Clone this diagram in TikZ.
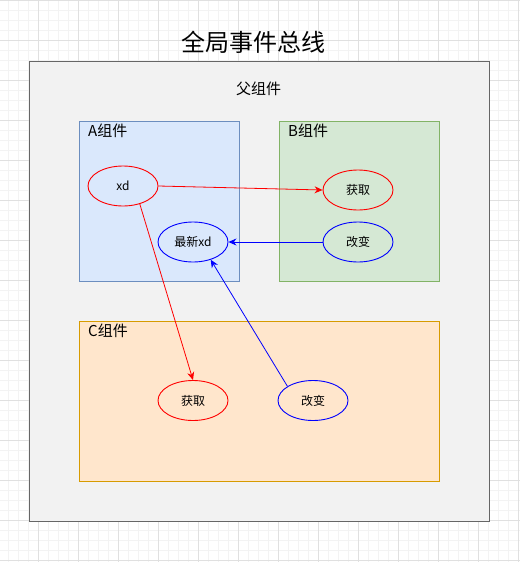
\documentclass[tikz,border=0pt]{standalone}
\usepackage{fontspec}
\setmainfont{Noto Sans CJK SC}
\usetikzlibrary{shapes.geometric,arrows.meta}
\definecolor{gridminor}{HTML}{F3F3F3}
\definecolor{gridmajor}{HTML}{E0E0E0}
\definecolor{parentfill}{HTML}{F2F2F2}
\definecolor{parentdraw}{HTML}{666666}
\definecolor{afill}{HTML}{DAE8FC}
\definecolor{adraw}{HTML}{6C8EBF}
\definecolor{bfill}{HTML}{D5E8D4}
\definecolor{bdraw}{HTML}{82B366}
\definecolor{cfill}{HTML}{FFE6CC}
\definecolor{cdraw}{HTML}{D79B00}
\definecolor{redc}{HTML}{FF0000}
\definecolor{bluec}{HTML}{0000FF}
\tikzset{
  compbox/.style={draw, line width=0.8pt, inner sep=0pt, anchor=north west},
  ell/.style={ellipse, draw, line width=0.9pt, minimum width=70pt, minimum height=40pt, inner sep=0pt, font=\fontsize{12}{14}\selectfont},
  redell/.style={ell, draw=redc},
  blueell/.style={ell, draw=bluec},
  complabel/.style={anchor=west, inner sep=0pt, font=\fontsize{15}{18}\selectfont},
  redarrow/.style={draw=redc, line width=0.8pt, -{Stealth[length=8pt,width=7pt]}},
  bluearrow/.style={draw=bluec, line width=0.8pt, -{Stealth[length=8pt,width=7pt]}},
}
\begin{document}
\begin{tikzpicture}[x=1pt,y=-1pt]
\useasboundingbox (0,0) rectangle (520,562);
\fill[white] (0,0) rectangle (520,562);
% grid
\foreach \x in {8.5,18.5,...,518.5} \draw[gridminor, line width=0.6pt] (\x,0) -- (\x,562);
\foreach \y in {0.5,10.5,...,560.5} \draw[gridminor, line width=0.6pt] (0,\y) -- (520,\y);
\foreach \x in {38.5,78.5,...,518.5} \draw[gridmajor, line width=0.7pt] (\x,0) -- (\x,562);
\foreach \y in {0.5,40.5,...,560.5} \draw[gridmajor, line width=0.7pt] (0,\y) -- (520,\y);
% title
\node[font=\fontsize{24}{28}\selectfont] (title) at (253,42) {全局事件总线};
% parent
\node[compbox, fill=parentfill, draw=parentdraw, minimum width=460pt, minimum height=460pt] (parent) at (28.5,60.5) {};
\node[font=\fontsize{15}{18}\selectfont] (ptitle) at (258.5,89) {父组件};
% components
\node[compbox, fill=afill, draw=adraw, minimum width=160pt, minimum height=160pt] (A) at (78.5,120.5) {};
\node[complabel] (Alab) at (88,130.5) {A组件};
\node[compbox, fill=bfill, draw=bdraw, minimum width=160pt, minimum height=160pt] (B) at (278.5,120.5) {};
\node[complabel] (Blab) at (288,130.5) {B组件};
\node[compbox, fill=cfill, draw=cdraw, minimum width=360pt, minimum height=160pt] (C) at (78.5,320.5) {};
\node[complabel] (Clab) at (88,330.5) {C组件};
% ellipses
\node[redell] (xd) at (123,186) {xd};
\node[redell] (bget) at (358,190) {获取};
\node[blueell] (newxd) at (193,242) {最新xd};
\node[blueell] (bchg) at (358,242) {改变};
\node[redell] (cget) at (193,400.5) {获取};
\node[blueell] (cchg) at (313,400.5) {改变};
% arrows
\draw[redarrow] (xd.east) -- (bget.west);
\draw[redarrow] (xd.-47) -- (cget.north);
\draw[bluearrow] (bchg.west) -- (newxd.east);
\draw[bluearrow] (cchg.151) -- (newxd.-45);
\end{tikzpicture}
\end{document}
